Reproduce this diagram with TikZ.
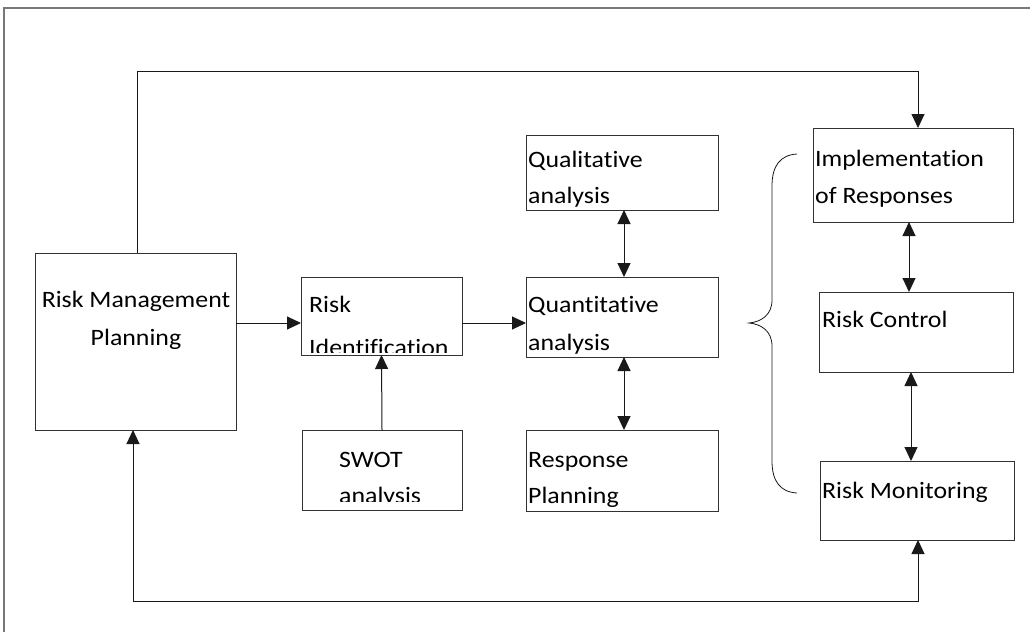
\documentclass[tikz,border=0pt]{standalone}
\usepackage{fontspec}
\setmainfont{Carlito}[FakeStretch=1.1, Ligatures={NoCommon}]
\usetikzlibrary{arrows.meta}
\newcommand\dfs{\fontsize{23.5}{36}\selectfont}
\definecolor{framec}{RGB}{120,120,120}
\definecolor{boxc}{RGB}{50,50,50}
\definecolor{linec}{RGB}{25,25,25}
\tikzset{
  boxnode/.style={draw=boxc, line width=1pt, inner sep=0pt, outer sep=0pt},
  txt/.style={font=\dfs, inner sep=0pt, anchor=base west, text=black},
  ctxt/.style={font=\dfs, inner sep=0pt, anchor=base, text=black},
  conn/.style={draw=linec, line width=1pt},
  arr/.style={conn, -{Triangle[length=14pt,width=13pt]}},
  darr/.style={conn, {Triangle[length=14pt,width=13pt]}-{Triangle[length=14pt,width=13pt]}},
}
\begin{document}
\begin{tikzpicture}[x=1pt,y=-1pt]
\useasboundingbox (0,0) rectangle (1030,632);
% outer frame (partly outside the picture)
\draw[framec, line width=1.1pt] (4,632) -- (4,8) -- (1030,8);

% boxes
\node[boxnode, minimum width=201pt, minimum height=177pt] (rmp) at (135.5,341.5) {};
\node[boxnode, minimum width=161pt, minimum height=78pt] (ri) at (381.5,316) {};
\node[boxnode, minimum width=160pt, minimum height=80pt] (swot) at (382,470) {};
\node[boxnode, minimum width=192pt, minimum height=75pt] (qual) at (622,172.5) {};
\node[boxnode, minimum width=192pt, minimum height=80pt] (quant) at (622,317) {};
\node[boxnode, minimum width=192pt, minimum height=81pt] (resp) at (622,470.5) {};
\node[boxnode, minimum width=200pt, minimum height=94pt] (impl) at (913,175) {};
\node[boxnode, minimum width=194pt, minimum height=80pt] (ctrl) at (916,332) {};
\node[boxnode, minimum width=194pt, minimum height=79pt] (mon) at (917,500.5) {};

% texts
\node[ctxt] (t1) at (136,307) {Risk Management};
\node[ctxt] (t2) at (136,345) {Planning};
\begin{scope}
  \clip (ri.south west) ++(0,-3) rectangle (ri.north east);
  \node[txt] (t3) at (309,312) {Risk};
  \node[txt] (t4) at (309,355) {Identification};
\end{scope}
\begin{scope}
  \clip (swot.south west) ++(0,-9) rectangle (swot.north east);
  \node[txt] (t5) at (339,467) {SWOT};
  \node[txt] (t6) at (339,503) {analysis};
\end{scope}
\node[txt] (t7) at (528,167) {Qualitative};
\node[txt] (t8) at (528,203) {analysis};
\node[txt] (t9) at (528,312) {Quantitative};
\node[txt] (t10) at (528,350) {analysis};
\begin{scope}
  \clip (resp.south west) ++(0,-2) rectangle (resp.north east);
  \node[txt] (t11) at (528,467) {Response};
  \node[txt] (t12) at (528,503) {Planning};
\end{scope}
\node[txt] (t13) at (815,166) {Implementation};
\node[txt] (t14) at (815,203) {of Responses};
\node[txt] (t15) at (822,327) {Risk Control};
\node[txt] (t16) at (822,498) {Risk Monitoring};

% connectors
\coordinate (hrow) at (0,323);
\draw[arr] (rmp.east |- hrow) -- (ri.west |- hrow);
\draw[arr] (ri.east |- hrow) -- (quant.west |- hrow);
\draw[arr] (swot.north) -- (ri.south);
\draw[darr] (qual.south -| 624,0) -- (quant.north -| 624,0);
\draw[darr] (quant.south -| 624,0) -- (resp.north -| 624,0);
\draw[darr] (impl.south -| 909,0) -- (ctrl.north -| 909,0);
\draw[darr] (ctrl.south -| 911,0) -- (mon.north -| 911,0);
\coordinate (tl) at (137,71);
\coordinate (tr) at (918,71);
\draw[arr] (rmp.north -| tl) -- (tl) -- (tr) -- (impl.north -| tr);
\coordinate (bl) at (133,601);
\coordinate (br) at (918,601);
\draw[darr] (rmp.south -| bl) -- (bl) -- (br) -- (mon.south -| br);

% brace
\draw[linec, line width=0.8pt] (797,154) .. controls (780,155) and (772,166) .. (772,186)
  -- (772,300) .. controls (772,315) and (761,322) .. (749,323)
  .. controls (761,324) and (772,331) .. (772,346)
  -- (772,461) .. controls (772,481) and (780,492) .. (797,493);
\end{tikzpicture}
\end{document}
